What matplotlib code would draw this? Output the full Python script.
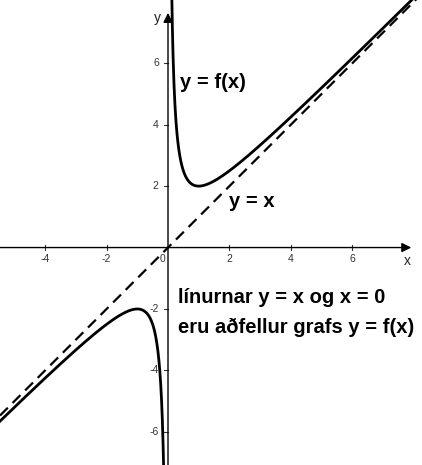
import numpy as np
import matplotlib
matplotlib.use("Agg")
import matplotlib.pyplot as plt

# function f(x) = x + c/x, with asymptotes y = x and x = 0
coef_c = 1.0
x_ticks = [-4, -2, 2, 4, 6]
y_ticks = [-6, -4, -2, 2, 4, 6]
xlim = (-5.47, 8.27)
ylim = (-7.08, 8.06)

label_f = "y = f(x)"
label_asym = "y = x"
note_lines = ["línurnar y = x og x = 0", "eru aðfellur grafs y = f(x)"]

plt.rcParams['font.family'] = ['Liberation Sans', 'DejaVu Sans']

fig = plt.figure(figsize=(4.22, 4.65), dpi=100)
ax = fig.add_axes([0, 0, 1, 1])
ax.set_xlim(*xlim)
ax.set_ylim(*ylim)
for s in ax.spines.values():
    s.set_visible(False)
ax.set_xticks([])
ax.set_yticks([])

axis_col = '#333333'
# axes lines with arrows
ax.annotate('', xy=(7.92, 0), xytext=(xlim[0], 0),
            arrowprops=dict(arrowstyle='-|>', color='black', lw=1.0,
                            mutation_scale=14, shrinkA=0, shrinkB=0))
ax.annotate('', xy=(0, 7.64), xytext=(0, ylim[0]),
            arrowprops=dict(arrowstyle='-|>', color='black', lw=1.0,
                            mutation_scale=14, shrinkA=0, shrinkB=0))
ax.text(7.78, -0.2, 'x', fontsize=10, ha='center', va='top', color='#222222')
ax.text(-0.22, 7.47, 'y', fontsize=10, ha='right', va='center', color='#222222')

# asymptote y = x
xs_line = np.array(xlim)
ax.plot(xs_line, xs_line, color='black', lw=1.6, ls=(0, (5, 3)))

# function branches
xr = np.linspace(0.05, xlim[1], 800)
xl = np.linspace(xlim[0], -0.05, 800)
for xx in (xr, xl):
    ax.plot(xx, xx + coef_c / xx, color='black', lw=2.0)

# ticks
for t in x_ticks:
    ax.plot([t, t], [-0.07, 0.07], color=axis_col, lw=0.8)
    ax.text(t, -0.2, str(t), fontsize=7.5, ha='center', va='top', color='#333333')
for t in y_ticks:
    ax.plot([-0.12, 0.0], [t, t], color=axis_col, lw=0.8)
    ax.text(-0.3, t, str(t), fontsize=7.5, ha='right', va='center', color='#333333',
            zorder=5)
ax.text(-0.1, -0.2, '0', fontsize=7.5, ha='right', va='top', color='#333333')

ax.text(0.39, 5.36, label_f, fontsize=14.5, fontweight='bold', ha='left', va='center')
ax.text(1.99, 1.5, label_asym, fontsize=14.5, fontweight='bold', ha='left', va='center')
ax.text(0.33, -1.62, note_lines[0], fontsize=14.5, fontweight='bold', ha='left', va='center')
ax.text(0.33, -2.6, note_lines[1], fontsize=14.5, fontweight='bold', ha='left', va='center')

fig.savefig('out.png', dpi=100)
